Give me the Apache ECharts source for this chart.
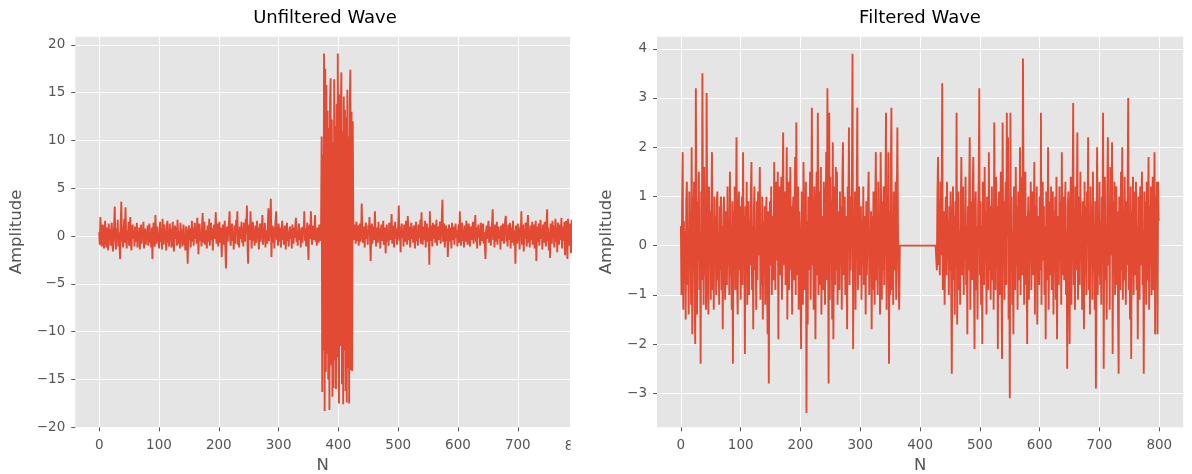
<!DOCTYPE html>
<html>
<head>
<meta charset="utf-8">
<script src="https://cdn.jsdelivr.net/npm/echarts@6/dist/echarts.min.js"></script>
<style>
html,body{margin:0;padding:0;background:#ffffff;}
#chart{width:1192px;height:474px;}
</style>
</head>
<body>
<div id="chart"></div>
<script>
// ---------- text ----------
const titleLeft = 'Unfiltered Wave';
const titleRight = 'Filtered Wave';
const xName = 'N';
const yName = 'Amplitude';

// ---------- tick labels ----------
const xTicksLeft = [0, 100, 200, 300, 400, 500, 600, 700];
const xTicksRight = [0, 100, 200, 300, 400, 500, 600, 700, 800];
const yTicksLeft = [-20, -15, -10, -5, 0, 5, 10, 15, 20];
const yTicksRight = [-3, -2, -1, 0, 1, 2, 3, 4];

// ---------- series values (sample N = 0..799) ----------
const unfiltered = [
 0.4,-0.9,2.0,0.6,-1.1,0.3,1.2,-0.7,-1.3,0.5,1.6,-0.4,-1.2,0.9,0.2,-1.5,1.3,-0.3,0.7,-1.0,
 0.5,1.4,-0.8,-1.6,0.2,1.1,3.1,-0.5,-1.4,0.8,-0.2,1.7,-1.1,0.4,-0.9,-2.4,1.0,3.6,-0.6,0.3,
 -1.2,0.9,1.8,-0.7,3.0,0.2,-1.3,0.6,-0.4,1.5,-1.0,0.3,2.0,-0.8,-1.5,0.7,1.2,-0.3,0.5,-1.1,
 1.0,-0.6,0.2,1.4,-1.2,0.4,-0.3,0.9,-1.4,0.1,1.2,-0.8,0.6,-0.2,1.5,-1.3,0.3,0.8,-0.9,0.5,
 -0.4,1.1,-1.0,0.6,1.3,-0.7,0.2,-1.2,0.9,-2.4,0.5,1.4,-0.3,-1.1,2.2,0.4,-0.8,1.0,-0.5,0.3,
 -1.3,0.7,1.5,-0.6,0.1,-1.4,1.8,0.3,-0.9,1.2,-0.2,0.6,-1.5,0.9,1.6,-0.7,0.2,-1.1,1.3,-0.4,
 0.8,-1.2,0.3,1.5,-0.5,-1.6,0.6,1.1,-0.3,0.9,-1.0,1.7,0.2,-0.8,0.5,-1.3,1.4,-0.1,0.7,-1.1,
 0.4,1.2,-0.9,0.1,-1.5,1.0,0.6,-0.7,-2.9,0.3,1.1,-0.4,0.8,-1.2,0.2,1.6,-0.6,0.9,-1.0,0.5,
 1.4,-0.3,0.7,-0.8,1.9,0.2,-1.9,0.9,1.3,-0.5,0.4,-1.1,1.0,2.4,-0.7,0.3,1.5,-0.9,0.6,-0.2,
 -1.3,1.1,0.5,-0.6,1.8,-1.0,0.2,1.4,-0.4,0.8,-1.5,0.6,1.2,-0.3,0.9,2.5,-0.8,0.1,1.3,-1.1,
 0.4,1.5,-0.7,0.9,-0.2,-2.2,0.6,1.2,-0.9,0.3,1.6,-1.3,-3.4,0.5,1.0,-0.6,0.8,1.4,2.6,-0.4,
 -1.0,0.7,1.3,-0.5,0.2,-1.4,1.1,0.6,-0.8,1.7,0.3,2.6,-0.9,0.5,-1.2,1.0,0.4,-0.3,1.5,-0.7,
 0.9,-1.1,1.4,0.2,-0.6,1.8,0.5,3.2,-0.8,-2.9,0.7,1.2,-0.4,2.6,0.3,-1.3,0.8,1.5,-0.5,0.6,
 -1.0,1.1,0.4,-0.7,1.6,-0.2,0.9,-1.4,0.5,1.3,-0.6,0.2,1.0,2.2,-0.9,0.7,-0.3,1.4,-1.2,0.6,
 0.3,-0.8,1.2,2.9,-0.5,0.8,1.5,3.9,-2.2,0.4,1.1,-0.7,0.9,-1.3,0.6,1.7,2.6,-0.4,0.2,-1.0,
 1.3,0.5,-0.6,0.9,-1.2,0.3,1.6,-0.4,0.7,-0.9,1.1,0.2,-1.4,0.8,1.4,-0.5,0.4,-1.1,0.6,1.0,
 -0.3,0.7,-1.3,1.2,0.4,-0.8,0.9,-0.2,1.1,1.9,-0.6,0.3,-1.0,0.8,1.3,-0.4,0.5,-1.2,0.9,0.1,
 -0.7,1.0,0.4,2.6,-0.5,0.8,-1.1,0.3,1.4,-0.6,-2.5,0.7,1.2,-0.3,2.6,0.5,-0.9,0.6,1.1,-0.4,
 0.8,2.2,-0.6,0.3,-1.0,0.9,0.4,-0.7,1.2,0.2,-0.5,0.6,10.4,-16.3,8.5,-12.0,19.1,-18.3,17.5,-14.2,
 15.8,-12.3,13.1,-15.0,11.3,-18.2,14.0,16.5,-13.5,12.2,-16.8,9.8,-15.9,16.4,-13.0,11.5,-16.0,13.8,-12.7,19.1,
 -3.5,-17.5,14.8,-11.5,12.9,17.1,-15.5,11.0,-17.6,14.6,-12.0,13.2,-16.2,12.4,-17.4,15.3,-13.8,10.4,-17.5,14.0,
 17.4,-14.0,13.0,-14.1,12.0,0.6,-0.4,1.2,0.3,-0.8,1.5,0.9,-0.5,1.1,-1.0,0.4,1.3,-0.6,0.2,3.4,
 0.5,-0.7,1.0,0.3,-1.2,0.8,1.4,-0.3,0.6,-0.9,1.1,0.2,2.0,-0.5,-2.6,0.7,1.3,-0.8,0.4,1.0,
 -0.4,2.6,0.5,-1.1,0.9,0.3,-0.7,1.5,-0.2,0.8,-1.3,0.6,1.2,-0.5,0.1,1.6,-0.9,0.4,0.9,-1.8,
 0.7,1.2,-0.6,0.3,-1.0,1.4,0.5,-0.4,0.9,2.3,-0.8,0.2,1.1,-1.2,0.6,1.5,-0.3,0.8,-0.9,0.4,
 1.0,3.2,-0.5,0.6,-1.7,0.9,1.3,-0.2,0.4,-1.1,1.2,0.7,-0.6,1.6,0.3,-0.9,2.1,0.5,-0.4,1.0,
 -1.2,0.6,1.4,-0.3,0.8,-0.7,1.1,0.2,-1.3,0.9,1.5,-0.5,0.4,-1.0,1.2,0.6,-0.2,1.7,-0.8,2.5,
 0.3,-0.9,1.0,0.5,-0.4,1.6,-1.2,0.7,1.3,-0.6,0.2,0.9,-3.0,2.6,-0.5,1.1,0.4,-1.1,1.4,-0.3,
 0.8,1.2,-0.7,0.5,1.7,-1.0,0.3,1.0,-0.4,0.9,1.5,-0.8,0.6,1.9,3.8,-0.6,0.7,1.3,-1.2,0.4,
 1.1,-0.5,0.8,-2.2,0.3,1.2,-0.6,0.9,0.2,-1.3,1.4,-0.4,0.7,1.0,-0.9,0.5,1.3,-0.2,0.6,-1.1,
 0.4,1.2,-0.7,2.6,0.3,-1.0,0.9,1.4,-0.5,0.6,-1.2,1.1,0.2,-0.6,1.6,0.8,-0.9,0.4,1.3,-0.3,
 -1.1,0.7,1.0,-0.4,0.5,1.5,-0.8,0.2,1.1,2.2,-0.6,0.9,-1.3,0.4,1.2,-0.2,0.7,-1.0,1.4,0.3,
 -0.5,0.9,1.3,-0.8,0.4,-1.2,-2.4,0.6,1.1,-0.3,0.8,1.6,-0.7,0.2,1.0,-1.0,0.5,1.4,2.8,-0.4,
 0.9,-1.2,1.2,0.3,-0.6,1.5,-0.9,0.6,1.0,-0.3,0.4,-1.4,1.1,0.7,-0.5,1.3,0.2,-0.8,0.9,1.7,
 2.1,-0.6,0.5,-1.1,1.2,0.8,-0.4,1.4,-1.3,0.3,0.9,-0.7,1.6,0.2,-1.0,0.6,-2.9,1.1,0.4,-0.8,
 1.3,-0.5,0.7,-1.4,1.0,0.3,2.6,-0.9,0.5,1.2,-1.6,0.8,-0.3,1.4,0.6,-1.1,1.0,2.2,-0.7,0.4,
 -1.2,1.1,0.6,-0.4,1.5,-0.9,0.3,1.2,-1.3,0.7,1.6,-2.6,0.4,1.0,-0.6,1.3,-1.0,0.5,1.7,-0.3,
 0.8,-1.4,1.2,0.2,-0.7,1.5,0.6,-1.1,1.0,2.8,-0.5,0.9,-1.5,0.4,-2.3,1.3,0.7,-0.8,1.6,-0.2,
 1.1,-1.2,0.5,1.8,-0.6,0.9,-1.7,1.4,0.3,-0.9,1.2,-0.4,0.7,1.9,-1.3,0.6,1.0,-0.5,1.5,-2.0,
 0.9,1.6,-0.7,-2.4,1.8,0.4,-1.0,1.3,0.6,-1.8,1.7,-0.5,1.1,-2.0,1.5,0.8,-1.2,1.6,-1.9,1.7
];

const filtered = [
 0.4,-1.0,0.8,1.9,-1.3,0.5,-0.6,0.3,-1.5,0.9,1.3,-0.8,0.2,-1.4,1.1,-0.4,0.7,-1.2,2.0,-1.8,
 1.0,-0.5,1.3,-1.1,-2.0,3.2,0.6,-1.4,0.9,-0.3,1.5,-0.9,0.2,-2.4,1.1,-0.7,3.5,0.3,-1.2,1.6,
 -0.6,0.8,-1.3,3.1,0.4,-0.8,-1.4,1.2,-0.2,0.7,-1.1,0.5,1.9,-0.9,0.3,-1.3,1.0,-0.4,0.6,-1.0,
 0.9,1.1,-0.7,0.2,-1.2,0.8,-0.5,1.0,-0.9,0.4,-1.7,0.6,1.0,-0.3,-1.1,0.7,0.1,-0.8,1.2,-0.4,
 0.5,-1.0,1.5,-0.6,0.3,-1.3,0.9,-2.4,0.7,-0.2,1.2,-0.9,0.4,2.2,-0.7,-1.4,0.6,1.1,-0.5,0.8,
 -1.1,0.3,1.0,-0.8,1.9,-0.3,0.6,-2.2,0.8,-0.6,1.3,-1.2,0.2,0.9,-1.0,0.5,-0.4,1.1,1.7,-0.9,
 0.4,-1.7,0.7,1.2,-0.5,0.1,-1.3,0.9,-0.7,1.1,-0.2,0.6,1.6,-1.1,0.3,-0.8,1.0,-1.5,0.5,-0.3,
 0.8,-1.2,0.4,1.0,-0.6,-1.8,0.7,-2.8,0.2,0.9,-0.4,1.2,-1.0,0.3,0.6,-0.7,1.7,0.1,-0.9,1.3,
 0.5,-0.3,1.5,-1.9,0.8,1.2,-0.6,0.4,1.4,-1.1,0.9,2.3,-0.4,0.6,1.1,-0.8,0.3,2.0,-1.5,0.7,
 1.3,-0.9,0.2,1.6,-0.5,0.8,-1.4,0.6,1.0,-0.7,0.4,1.8,-1.0,2.5,0.3,-0.6,1.2,-1.3,0.7,0.1,
 -0.8,-2.1,1.1,0.4,-1.2,1.7,0.6,-0.9,0.2,1.3,-3.4,0.5,-1.6,1.0,0.8,-0.5,1.5,-1.1,0.3,2.8,
 -0.4,0.9,-1.3,1.2,0.5,-1.9,0.7,1.5,-0.6,2.7,-1.0,0.3,1.1,-0.8,1.6,-1.4,0.6,0.2,-0.9,1.3,
 0.8,-1.2,0.4,1.9,-0.7,3.2,0.6,-2.8,2.7,-1.1,1.4,-0.3,0.9,-1.5,2.1,-1.9,0.5,1.2,-0.8,1.6,
 -0.5,1.5,-1.2,0.7,0.2,-0.9,1.1,-0.4,0.8,-1.3,1.3,2.1,-0.6,0.4,1.0,-1.0,0.6,-0.3,-1.7,1.2,
 0.3,2.4,-0.8,1.0,-0.5,0.7,1.4,3.9,-2.1,0.6,-0.7,1.1,-1.3,0.4,0.9,2.8,-0.9,0.5,1.2,-0.6,
 0.2,0.8,-1.1,0.5,-0.4,1.2,-0.8,0.6,0.1,-1.4,0.9,-0.6,0.4,1.0,1.5,-1.0,0.3,-0.5,0.7,-1.7,
 0.6,-0.9,1.1,0.2,-1.2,0.8,1.9,-0.7,0.4,-1.0,1.3,-0.3,0.5,-1.4,1.9,0.6,-1.1,0.9,-0.5,1.2,
 -0.8,0.5,1.0,2.7,-1.3,0.3,-0.6,1.9,-2.4,0.7,-1.0,1.4,2.8,-0.9,0.4,-1.2,1.1,0.6,-0.5,1.3,
 -1.1,0.8,2.4,0.3,-0.7,-1.3,0,0,0,0,0,0,0,0,0,0,0,0,0,0,
 0,0,0,0,0,0,0,0,0,0,0,0,0,0,0,0,0,0,0,0,
 0,0,0,0,0,0,0,0,0,0,0,0,0,0,0,0,0,0,0,0,
 0,0,0,0,0,0,0,0,-0.5,1.0,1.8,-0.4,0.9,-0.6,1.3,-0.2,0.6,3.3,-0.9,0.4,
 0.7,-1.2,0.2,1.0,-0.6,1.3,-0.3,0.5,-1.0,0.8,-0.5,1.1,-0.8,-2.6,0.4,1.2,-0.7,0.6,-1.4,0.9,
 -0.4,2.7,-1.6,0.5,1.1,-0.9,0.3,-1.2,0.7,1.8,-0.6,0.2,1.2,-1.0,0.6,-0.3,1.4,-0.8,0.4,-1.8,
 0.8,-0.5,1.0,2.2,-1.3,0.3,0.9,-0.7,1.2,1.8,-0.4,-2.1,0.6,1.1,-0.9,0.4,-1.5,0.7,1.3,3.2,
 -0.6,0.9,-1.2,0.4,-2.0,1.3,0.2,-0.8,1.6,-0.3,0.7,-1.4,1.0,0.5,-0.9,1.9,-0.5,0.8,-1.1,0.3,
 1.2,-0.7,0.5,-1.3,2.5,0.1,-0.9,1.4,-0.4,0.8,-2.1,0.6,1.1,-1.0,0.3,1.5,-0.6,-2.3,2.5,-0.2,
 0.9,-1.1,0.4,1.3,-0.8,2.7,0.2,2.2,-1.5,0.6,-3.1,2.7,-0.5,1.0,-1.2,0.3,-1.8,1.2,0.7,-0.9,
 1.6,-0.4,0.8,-1.3,1.1,0.2,-0.7,2.0,-1.0,0.5,1.4,-0.6,3.8,0.9,-1.2,0.3,1.5,-0.8,0.6,-2.0,
 0.4,1.0,-1.1,0.7,-0.3,1.3,-0.9,0.5,1.1,-0.6,0.2,1.7,-1.4,0.8,-0.4,1.2,-1.6,0.6,0.1,-0.8,
 1.0,-0.5,2.7,-1.2,0.6,1.3,-0.3,0.8,-1.0,0.4,-1.9,1.1,0.2,-0.7,2.0,-1.3,0.5,0.9,-0.6,1.2,
 -0.9,0.3,1.1,-1.4,0.7,-0.5,1.0,-1.1,1.4,-1.9,0.6,0.2,-0.8,1.2,-0.3,0.9,-1.2,1.9,-0.6,0.4,
 1.0,-0.7,0.5,1.3,-1.0,0.3,-2.5,0.8,1.1,-0.4,-2.0,0.6,1.4,-1.2,0.2,0.9,2.9,-0.8,0.4,-1.3,
 1.2,-0.5,0.7,2.3,-1.1,0.4,1.0,-0.8,1.5,-0.3,0.6,-1.3,0.9,0.2,-1.7,1.3,-0.6,0.8,-1.0,1.1,
 0.3,2.2,-0.9,0.6,-1.4,1.2,-0.2,0.8,-1.1,1.5,-0.5,0.4,-1.3,0.9,-2.9,0.2,2.0,-1.0,0.7,-0.6,
 1.3,-0.8,0.5,-1.2,1.0,0.3,2.7,-2.5,0.6,1.4,-0.7,0.2,-1.5,1.1,2.2,-0.4,0.8,-1.3,1.6,-0.2,
 0.5,2.1,-2.2,0.9,-0.6,1.3,-1.0,0.4,1.2,-0.8,0.7,-1.4,-2.6,1.0,0.3,-0.9,1.5,-0.5,2.0,-1.1,
 0.6,-0.7,1.4,0.2,-1.2,0.9,-0.4,1.1,3.0,-0.9,0.5,-1.5,1.2,-2.3,0.7,-0.3,1.4,-1.0,0.6,1.1,
 -0.6,1.3,-0.9,0.4,-1.9,1.0,0.6,-1.1,1.2,-0.4,0.8,1.5,-0.8,0.3,-2.6,1.1,-0.5,0.9,-1.2,1.3,
 -0.7,0.5,1.8,-1.3,0.8,-0.4,1.2,-1.0,0.6,1.4,-0.9,0.3,1.9,-1.8,1.0,-0.5,1.3,-1.8,1.3,0.5
];

// ---------- styling ----------
const FONT = 'DejaVu Sans';
const LINE_COLOR = '#E24A33';
const PANEL_BG = '#E5E5E5';
const TEXT_GRAY = '#555555';
const fmt = v => (v < 0 ? '\u2212' + Math.abs(v) : String(v));

function makeX(gridIndex, min, max, ticks) {
  return {
    type: 'value', gridIndex, min, max, position: 'bottom',
    axisLine: { show: false, onZero: false },
    axisTick: { show: true, length: 4, customValues: ticks, lineStyle: { color: TEXT_GRAY, width: 1 } },
    axisLabel: { customValues: ticks, formatter: fmt, color: TEXT_GRAY, fontSize: 13.5, fontFamily: FONT, margin: 11 },
    splitLine: { show: true, lineStyle: { color: '#ffffff', width: 1 } },
    name: xName, nameLocation: 'middle', nameGap: 30,
    nameTextStyle: { color: TEXT_GRAY, fontSize: 16.5, fontFamily: FONT }
  };
}
function makeY(gridIndex, min, max, ticks, gap) {
  return {
    type: 'value', gridIndex, min, max, position: 'left',
    axisLine: { show: false, onZero: false },
    axisTick: { show: true, length: 4, customValues: ticks, lineStyle: { color: TEXT_GRAY, width: 1 } },
    axisLabel: { customValues: ticks, formatter: fmt, color: TEXT_GRAY, fontSize: 13.5, fontFamily: FONT, margin: 10 },
    splitLine: { show: true, lineStyle: { color: '#ffffff', width: 1 } },
    name: yName, nameLocation: 'middle', nameGap: gap,
    nameTextStyle: { color: TEXT_GRAY, fontSize: 16.5, fontFamily: FONT }
  };
}

const chart = echarts.init(document.getElementById('chart'), null, { renderer: 'canvas' });
chart.setOption({
  animation: false,
  backgroundColor: '#ffffff',
  grid: [
    { left: 75.3, top: 36.7, width: 494.7, height: 390.6, show: true, backgroundColor: PANEL_BG, borderWidth: 0,
      containLabel: false, outerBoundsMode: 'none' },
    { left: 657, top: 36.7, width: 526.2, height: 390.6, show: true, backgroundColor: PANEL_BG, borderWidth: 0,
      containLabel: false, outerBoundsMode: 'none' }
  ],
  xAxis: [
    makeX(0, -39.95, 787.3, xTicksLeft),
    makeX(1, -39.95, 839.95, xTicksRight)
  ],
  yAxis: [
    makeY(0, -20.0, 20.85, yTicksLeft, 50),
    makeY(1, -3.69, 4.245, yTicksRight, 42)
  ],
  series: [
    { type: 'line', xAxisIndex: 0, yAxisIndex: 0, data: unfiltered.map((v, i) => [i, v]),
      showSymbol: false, symbol: 'none', clip: true, lineStyle: { color: LINE_COLOR, width: 1.9 } },
    { type: 'line', xAxisIndex: 1, yAxisIndex: 1, data: filtered.map((v, i) => [i, v]),
      showSymbol: false, symbol: 'none', clip: true, lineStyle: { color: LINE_COLOR, width: 1.9 } }
  ],
  graphic: [
    { id: 't1', type: 'text', x: 325, y: 18, style: { text: titleLeft, font: '18px "' + FONT + '"', fill: '#000000', align: 'center', verticalAlign: 'middle' } },
    { id: 't2', type: 'text', x: 920, y: 18, style: { text: titleRight, font: '18px "' + FONT + '"', fill: '#000000', align: 'center', verticalAlign: 'middle' } }
  ]
});

// the left panel's 800 tick label is cut by the panel edge in the original
const x800 = chart.convertToPixel({ xAxisIndex: 0 }, 800);
chart.setOption({
  graphic: [
    { id: 'cut800', type: 'text', x: x800, y: 446, z: 10,
      style: { text: '800', font: '13.5px "' + FONT + '"', fill: TEXT_GRAY, align: 'center', verticalAlign: 'middle' } },
    { id: 'mask800', type: 'rect', x: 570.5, y: 428.5, z: 11, shape: { width: 24, height: 30 }, style: { fill: '#ffffff' } }
  ]
});
</script>
</body>
</html>
